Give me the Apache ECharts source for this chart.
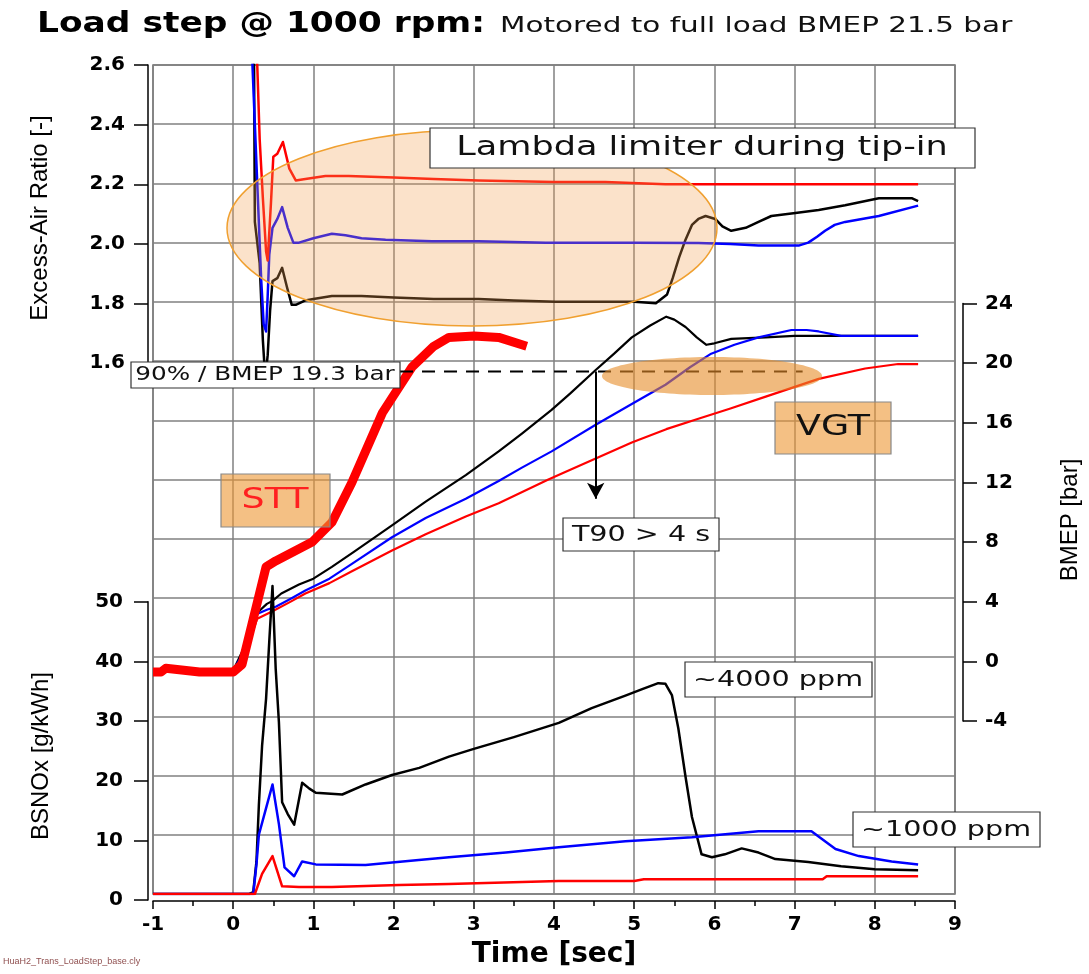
<!DOCTYPE html>
<html>
<head>
<meta charset="utf-8">
<script src="https://cdn.jsdelivr.net/npm/echarts@6/dist/echarts.min.js"></script>
<style>
  html, body { margin: 0; padding: 0; background: #fff; }
  #chart { width: 1089px; height: 974px; }
</style>
</head>
<body>
<div id="chart"></div>
<script>
// time [s], value pairs
const lambdaBlack = [[0.22, 3.0], [0.26, 2.6], [0.27, 2.07], [0.30, 2.0], [0.33, 1.93], [0.37, 1.67], [0.40, 1.54], [0.43, 1.62], [0.46, 1.77], [0.49, 1.87], [0.55, 1.88], [0.61, 1.915], [0.67, 1.85], [0.73, 1.79], [0.78, 1.79], [0.90, 1.805], [1.0, 1.81], [1.23, 1.82], [1.6, 1.82], [2.0, 1.815], [2.5, 1.81], [3.06, 1.81], [3.5, 1.805], [4.02, 1.80], [4.5, 1.80], [5.0, 1.80], [5.27, 1.795], [5.41, 1.825], [5.48, 1.88], [5.56, 1.95], [5.64, 2.01], [5.72, 2.06], [5.8, 2.08], [5.89, 2.09], [6.01, 2.08], [6.1, 2.055], [6.21, 2.04], [6.39, 2.05], [6.55, 2.07], [6.71, 2.09], [7.01, 2.10], [7.3, 2.11], [7.63, 2.126], [8.05, 2.15], [8.46, 2.15], [8.54, 2.14]];
const lambdaBlue = [[0.2, 3.0], [0.24, 2.6], [0.27, 2.4], [0.30, 2.2], [0.33, 2.0], [0.35, 1.87], [0.38, 1.725], [0.41, 1.70], [0.43, 1.82], [0.45, 1.96], [0.49, 2.05], [0.55, 2.08], [0.61, 2.12], [0.68, 2.05], [0.75, 2.0], [0.82, 2.0], [1.0, 2.015], [1.23, 2.03], [1.4, 2.025], [1.6, 2.015], [1.9, 2.01], [2.48, 2.005], [3.06, 2.005], [3.9, 2.0], [5.0, 2.0], [5.8, 1.999], [6.2, 1.995], [6.55, 1.99], [7.05, 1.99], [7.17, 2.0], [7.28, 2.02], [7.38, 2.04], [7.5, 2.06], [7.63, 2.07], [8.05, 2.09], [8.54, 2.125]];
const lambdaRed = [[0.26, 3.0], [0.30, 2.6], [0.33, 2.35], [0.37, 2.15], [0.41, 1.97], [0.43, 1.94], [0.47, 2.13], [0.50, 2.29], [0.55, 2.3], [0.62, 2.34], [0.70, 2.25], [0.78, 2.21], [0.9, 2.215], [1.15, 2.225], [1.44, 2.225], [2.0, 2.22], [2.5, 2.215], [3.06, 2.21], [4.0, 2.205], [4.64, 2.205], [5.39, 2.197], [6.0, 2.197], [7.0, 2.197], [8.54, 2.197]];

const bmepBlack = [[0.0, -0.9], [0.15, 0.8], [0.3, 3.0], [0.42, 3.6], [0.49, 3.8], [0.6, 4.3], [0.82, 4.9], [1.0, 5.3], [1.23, 6.1], [1.5, 7.1], [1.98, 8.9], [2.4, 10.5], [2.9, 12.3], [3.31, 13.9], [3.6, 15.1], [3.97, 16.7], [4.2, 17.8], [4.52, 19.4], [4.75, 20.5], [4.97, 21.6], [5.2, 22.4], [5.40, 23.0], [5.5, 22.8], [5.64, 22.3], [5.78, 21.6], [5.90, 21.1], [6.0, 21.2], [6.21, 21.5], [6.64, 21.6], [7.0, 21.7], [7.46, 21.7], [8.0, 21.7], [8.54, 21.7]];
const bmepBlue = [[0.0, -0.9], [0.15, 0.5], [0.29, 2.9], [0.42, 3.2], [0.53, 3.4], [0.7, 3.9], [0.9, 4.5], [1.2, 5.3], [1.48, 6.3], [1.98, 8.1], [2.4, 9.4], [2.9, 10.7], [3.31, 11.9], [3.6, 12.8], [3.97, 13.9], [4.52, 15.7], [4.97, 17.1], [5.39, 18.4], [5.7, 19.6], [5.96, 20.5], [6.25, 21.1], [6.55, 21.6], [6.96, 22.1], [7.15, 22.1], [7.30, 22.0], [7.58, 21.7], [8.0, 21.7], [8.54, 21.7]];
const bmepRed = [[0.0, -0.9], [0.15, 0.3], [0.3, 2.6], [0.49, 3.1], [0.7, 3.7], [0.9, 4.3], [1.2, 5.0], [1.48, 5.8], [1.98, 7.2], [2.4, 8.3], [2.9, 9.5], [3.31, 10.4], [3.93, 12.0], [4.14, 12.5], [4.97, 14.5], [5.4, 15.4], [5.80, 16.1], [6.2, 16.8], [6.64, 17.6], [7.30, 18.8], [7.88, 19.5], [8.29, 19.8], [8.54, 19.8]];
const sttLine = [[-1.0, -1.0], [-0.9, -1.0], [-0.84, -0.75], [-0.42, -1.0], [0.0, -1.0], [0.11, -0.5], [0.41, 6.1], [0.53, 6.5], [0.99, 7.8], [1.23, 9.1], [1.48, 11.8], [1.86, 16.5], [2.23, 19.6], [2.5, 21.0], [2.69, 21.6], [3.0, 21.7], [3.31, 21.6], [3.66, 21.0]];

const noxBlack = [[-1, 0], [0.2, 0], [0.25, 0.3], [0.29, 5.5], [0.32, 15], [0.36, 25], [0.41, 33], [0.45, 42.7], [0.49, 52], [0.53, 38], [0.57, 29], [0.61, 15.5], [0.68, 13.5], [0.76, 11.7], [0.86, 18.8], [0.95, 17.8], [1.03, 17.1], [1.36, 16.8], [1.65, 18.5], [1.98, 20.1], [2.32, 21.3], [2.69, 23.2], [3.0, 24.5], [3.5, 26.5], [4.06, 28.9], [4.47, 31.4], [4.89, 33.5], [5.1, 34.6], [5.3, 35.6], [5.39, 35.5], [5.47, 33.6], [5.55, 28.0], [5.64, 19.8], [5.72, 13.0], [5.84, 6.7], [5.97, 6.2], [6.13, 6.7], [6.34, 7.7], [6.55, 7.0], [6.76, 5.9], [7.17, 5.4], [7.58, 4.7], [8.0, 4.2], [8.54, 4.0]];
const noxBlue = [[-1, 0], [0.25, 0], [0.29, 5.0], [0.32, 10.0], [0.41, 14.5], [0.49, 18.5], [0.57, 11.8], [0.64, 4.5], [0.76, 3.0], [0.86, 5.5], [1.03, 5.0], [1.65, 4.9], [2.28, 5.7], [2.69, 6.2], [3.4, 7.0], [4.06, 7.9], [4.89, 8.9], [5.72, 9.6], [6.55, 10.6], [7.21, 10.6], [7.51, 7.6], [7.8, 6.4], [8.21, 5.5], [8.54, 5.0]];
const noxRed = [[-1, 0], [0.27, 0], [0.36, 3.4], [0.49, 6.4], [0.61, 1.3], [0.82, 1.2], [1.23, 1.2], [2.07, 1.5], [2.69, 1.7], [4.06, 2.2], [5.0, 2.2], [5.12, 2.5], [7.35, 2.5], [7.4, 3.0], [8.54, 3.0]];

const t90Line = [[2.08, 19.3], [7.1, 19.3]];
const t90Arrow = [[4.52, 19.3], [4.52, 10.7]];

const chart = echarts.init(document.getElementById('chart'));

const L = 153, T = 65, W = 802, H = 835, ROW = H / 14;
const tickFont = { fontFamily: 'DejaVu Sans', fontWeight: 'bold', fontSize: 20, color: '#000' };
const blk = { color: '#000', width: 1.5 };

function line(name, data, y, color, width) {
  return {
    name: name, type: 'line', data: data, xAxisIndex: 0, yAxisIndex: y,
    showSymbol: false, symbol: 'none', silent: true,
    lineStyle: { color: color, width: width || 2.5, join: 'round' }
  };
}

function box(x1, y1, x2, y2, fill, stroke) {
  return { type: 'rect', z: 20, shape: { x: x1, y: y1, width: x2 - x1, height: y2 - y1 },
    style: { fill: fill, stroke: stroke || '#333', lineWidth: 1.2 } };
}
function label(text, cx, cy, size, color) {
  return { type: 'text', z: 21, x: cx, y: cy, scaleX: 1.3,
    style: { text: text, font: size + 'px "DejaVu Sans"', fill: color || '#111',
      textAlign: 'center', textVerticalAlign: 'middle' } };
}
function axisName(text, cx, cy) {
  return { type: 'text', x: cx, y: cy, rotation: Math.PI / 2,
    style: { text: text, font: '24px "Liberation Sans"', fill: '#000',
      textAlign: 'center', textVerticalAlign: 'middle' } };
}
function sideAxis(grid, min, max, step, pos, offset, margin, fmt) {
  return {
    gridIndex: grid, type: 'value', min: min, max: max, interval: step, position: pos, offset: offset,
    axisLine: { show: true, onZero: false, lineStyle: blk },
    axisTick: { show: true, length: 14, lineStyle: blk },
    axisLabel: Object.assign({ margin: margin, formatter: fmt }, tickFont),
    splitLine: { show: false }
  };
}

const orange = 'rgba(236,150,50,0.6)';

chart.setOption({
  animation: false,
  backgroundColor: '#fff',
  grid: [
    { left: L, top: T, width: W, height: H, show: true, borderColor: '#707070', borderWidth: 1.5 },
    { left: L, top: T, width: W, height: ROW * 5 },
    { left: L, top: T + ROW * 9, width: W, height: ROW * 5 },
    { left: L, top: T + ROW * 4, width: W, height: ROW * 7 }
  ],
  xAxis: [
    {
      gridIndex: 0, type: 'value', min: -1, max: 9, interval: 1, offset: 7, position: 'bottom',
      axisLine: { show: true, onZero: false, lineStyle: blk },
      axisTick: { show: true, length: 8, lineStyle: blk },
      minorTick: { show: true, splitNumber: 2, length: 5, lineStyle: blk },
      axisLabel: Object.assign({ margin: 14 }, tickFont),
      splitLine: { show: true, lineStyle: { color: '#808080', width: 1.5 } },
      name: 'Time [sec]', nameLocation: 'middle', nameGap: 40,
      nameTextStyle: { fontFamily: 'DejaVu Sans', fontWeight: 'bold', fontSize: 28, color: '#000' }
    },
    { gridIndex: 1, type: 'value', min: -1, max: 9, show: false },
    { gridIndex: 2, type: 'value', min: -1, max: 9, show: false },
    { gridIndex: 3, type: 'value', min: -1, max: 9, show: false }
  ],
  yAxis: [
    { gridIndex: 0, type: 'value', min: -0.2, max: 2.6, show: false },
    { gridIndex: 0, type: 'value', min: -16, max: 40, show: false },
    {
      gridIndex: 0, type: 'value', min: 0, max: 140, interval: 10,
      axisLine: { show: false, onZero: false }, axisTick: { show: false }, axisLabel: { show: false },
      splitLine: { show: true, lineStyle: { color: '#808080', width: 1.5 } }
    },
    sideAxis(1, 1.6, 2.6, 0.2, 'left', 5, 23, v => v.toFixed(1)),
    sideAxis(2, 0, 50, 10, 'left', 5, 25),
    sideAxis(3, -4, 24, 4, 'right', 8, 22)
  ],
  series: [
    line('BMEP black', bmepBlack, 1, '#000000', 2.2),
    line('BMEP blue', bmepBlue, 1, '#0000ff', 2.2),
    line('BMEP red', bmepRed, 1, '#ff0000', 2.2),
    line('STT', sttLine, 1, '#ff0000', 9),
    line('NOx black', noxBlack, 2, '#000000'),
    line('NOx blue', noxBlue, 2, '#0000ff'),
    line('NOx red', noxRed, 2, '#ff0000'),
    line('Lambda black', lambdaBlack, 0, '#000000'),
    line('Lambda blue', lambdaBlue, 0, '#0000ff'),
    line('Lambda red', lambdaRed, 0, '#ff0000'),
    {
      name: 'T90', type: 'line', data: t90Line, xAxisIndex: 0, yAxisIndex: 1,
      showSymbol: false, symbol: 'none', silent: true,
      lineStyle: { color: '#000', width: 2, type: [13, 9] },
      markLine: {
        silent: true, symbol: ['none', 'arrow'], symbolSize: [13, 16],
        label: { show: false },
        lineStyle: { color: '#000', width: 2, type: 'solid' },
        data: [[{ coord: t90Arrow[0] }, { coord: t90Arrow[1] }]]
      }
    }
  ],
  graphic: [
    { type: 'text', x: 37, y: 25, scaleX: 1.23,
      style: { text: 'Load step @ 1000 rpm:', font: 'bold 28px "DejaVu Sans"', fill: '#000', textVerticalAlign: 'middle' } },
    { type: 'text', x: 500, y: 26, scaleX: 1.34,
      style: { text: 'Motored to full load BMEP 21.5 bar', font: '22px "DejaVu Sans"', fill: '#111', textVerticalAlign: 'middle' } },
    axisName('Excess-Air Ratio [-]', 40, 218),
    axisName('BSNOx [g/kWh]', 41, 756),
    axisName('BMEP [bar]', 1070, 520),
    { type: 'text', x: 3, y: 962,
      style: { text: 'HuaH2_Trans_LoadStep_base.cly', font: '9px "Liberation Sans"', fill: '#905050', textVerticalAlign: 'middle' } },

    { type: 'ellipse', z: 10, shape: { cx: 472, cy: 228, rx: 245, ry: 98 },
      style: { fill: 'rgba(242,160,80,0.3)', stroke: '#f0a030', lineWidth: 1.5 } },
    { type: 'ellipse', z: 10, shape: { cx: 712, cy: 376, rx: 110, ry: 19 },
      style: { fill: 'rgba(230,140,40,0.6)' } },

    box(430, 128, 975, 168, '#fff'),
    label('Lambda limiter during tip-in', 702, 148, 27),
    box(131, 362, 400, 388, '#fff'),
    label('90% / BMEP 19.3 bar', 265, 375, 19),
    box(221, 474, 330, 527, orange, '#888'),
    label('STT', 275, 501, 28, '#ff2020'),
    box(775, 402, 891, 454, orange, '#888'),
    label('VGT', 833, 428, 28, '#111'),
    box(563, 518, 719, 551, '#fff'),
    label('T90 > 4 s', 641, 535, 22),
    box(685, 662, 872, 697, '#fff'),
    label('~4000 ppm', 778, 680, 22),
    box(853, 812, 1040, 847, '#fff'),
    label('~1000 ppm', 946, 830, 22)
  ]
});
</script>
</body>
</html>
